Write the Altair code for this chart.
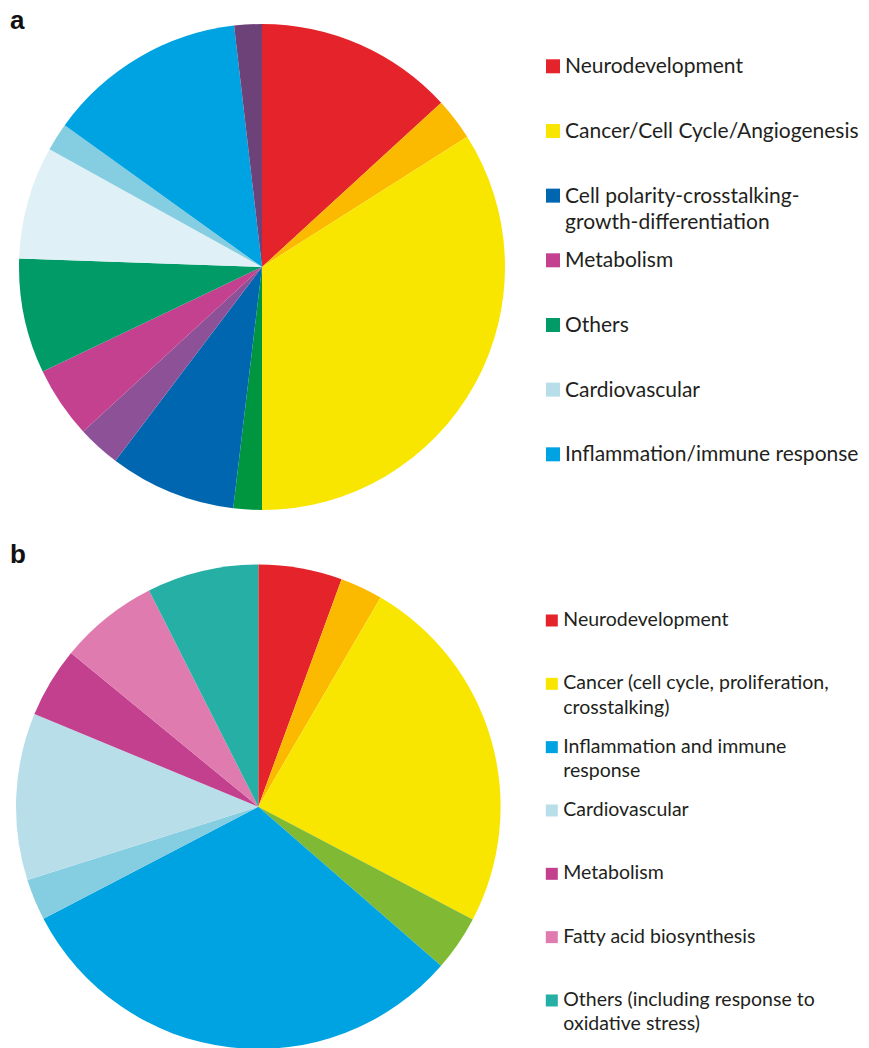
import altair as alt
import pandas as pd

# ---------------- Panel a: pie slices (clockwise from 12 o'clock) ----------------
a_slices = ["Neurodevelopment", "Neurodevelopment (other)", "Cancer/Cell Cycle/Angiogenesis",
            "Others (minor)", "Cell polarity-crosstalking-growth-differentiation",
            "Metabolism (other)", "Metabolism", "Others", "Cardiovascular",
            "Cardiovascular (other)", "Inflammation/immune response", "Unclassified"]
a_values = [47.5, 10.1, 122.4, 6.8, 30.3, 10.3, 17.1, 27.5, 27.0, 6.7, 47.7, 6.6]
a_colors = ["#E4232A", "#FBBA00", "#F8E600", "#00953F", "#0066B0", "#8D5198",
            "#C3418E", "#009B67", "#DFF0F6", "#85CDE0", "#00A3E1", "#6C4279"]

a_legend = ["Neurodevelopment", "Cancer/Cell Cycle/Angiogenesis",
            "Cell polarity-crosstalking-\ngrowth-differentiation", "Metabolism",
            "Others", "Cardiovascular", "Inflammation/immune response"]
a_legend_colors = ["#E4232A", "#F8E600", "#0066B0", "#C3418E", "#009B67", "#B8DFE9", "#00A3E1"]

# ---------------- Panel b ----------------
b_slices = ["Neurodevelopment", "Neurodevelopment (other)", "Cancer (cell cycle, proliferation, crosstalking)",
            "Others (minor)", "Inflammation and immune response", "Cardiovascular (other)",
            "Cardiovascular", "Metabolism", "Fatty acid biosynthesis",
            "Others (including response to oxidative stress)"]
b_values = [20.1, 10.2, 87.4, 13.3, 111.4, 9.9, 40.1, 16.9, 23.8, 26.8]
b_colors = ["#E4232A", "#FBBA00", "#F8E600", "#80BA34", "#00A3E1", "#85CDE0",
            "#B8DFE9", "#C3408E", "#E07BAF", "#26B0A5"]

b_legend = ["Neurodevelopment", "Cancer (cell cycle, proliferation,\ncrosstalking)",
            "Inflammation and immune\nresponse", "Cardiovascular", "Metabolism",
            "Fatty acid biosynthesis", "Others (including response to\noxidative stress)"]
b_legend_colors = ["#E4232A", "#F8E600", "#00A3E1", "#B8DFE9", "#C3408E", "#E07BAF", "#26B0A5"]

TEXT_COLOR = "#231F20"


def pie_panel(names, values, colors, label, w, h, cx, cy, r, label_y):
    df = pd.DataFrame({"idx": list(range(len(values))), "name": names,
                       "value": values, "color": colors})
    arc = alt.Chart(df).mark_arc(radius=r).encode(
        theta=alt.Theta("value:Q", stack=True),
        color=alt.Color("color:N", scale=None),
        order=alt.Order("idx:Q", sort="ascending"),
        x=alt.value(cx), y=alt.value(cy),
        tooltip=["name:N"],
    )
    lab = alt.Chart(pd.DataFrame({"t": [label]})).mark_text(
        font="Liberation Sans", fontWeight="bold", fontSize=26,
        align="left", baseline="alphabetic", color="#111111",
    ).encode(text="t:N", x=alt.value(2), y=alt.value(label_y))
    return alt.layer(arc, lab).properties(width=w, height=h)


def legend_panel(labels, colors, w, h, y0, step, sq_x, tx_x, fs, sq, sq_dy, lh):
    n = len(labels)
    df = pd.DataFrame({"i": list(range(n)), "label": labels, "color": colors})
    lo = -y0 / step
    hi = lo + h / step
    yenc = alt.Y("i:Q", scale=alt.Scale(domain=[lo, hi], reverse=True), axis=None)
    squares = alt.Chart(df).mark_square(size=sq * sq, opacity=1, yOffset=sq_dy).encode(
        x=alt.value(sq_x), y=yenc, color=alt.Color("color:N", scale=None))
    texts = alt.Chart(df).mark_text(
        font="Lato", fontSize=fs, align="left", baseline="alphabetic",
        lineBreak="\n", lineHeight=lh, color=TEXT_COLOR,
    ).encode(x=alt.value(tx_x), y=yenc, text="label:N")
    return alt.layer(squares, texts).properties(width=w, height=h)


row_a = alt.hconcat(
    pie_panel(a_slices, a_values, a_colors, "a", 508, 530, 254, 259, 243, 21),
    legend_panel(a_legend, a_legend_colors, 345, 530, 65.3, 64.67, 37, 49, 21, 14, -7, 26),
    spacing=0,
)
row_b = alt.hconcat(
    pie_panel(b_slices, b_values, b_colors, "b", 508, 510, 250.3, 268.7, 242.3, 24.5),
    legend_panel(b_legend, b_legend_colors, 345, 510, 88, 63.33, 35.8, 47.3, 19.5, 12, -5.5, 24.5),
    spacing=0,
)

chart = alt.vconcat(row_a, row_b, spacing=0).properties(
    padding=0, background="white"
).configure_view(strokeWidth=0, stroke="transparent")

chart.save("out.html", embed_options={"renderer": "svg", "actions": False})
